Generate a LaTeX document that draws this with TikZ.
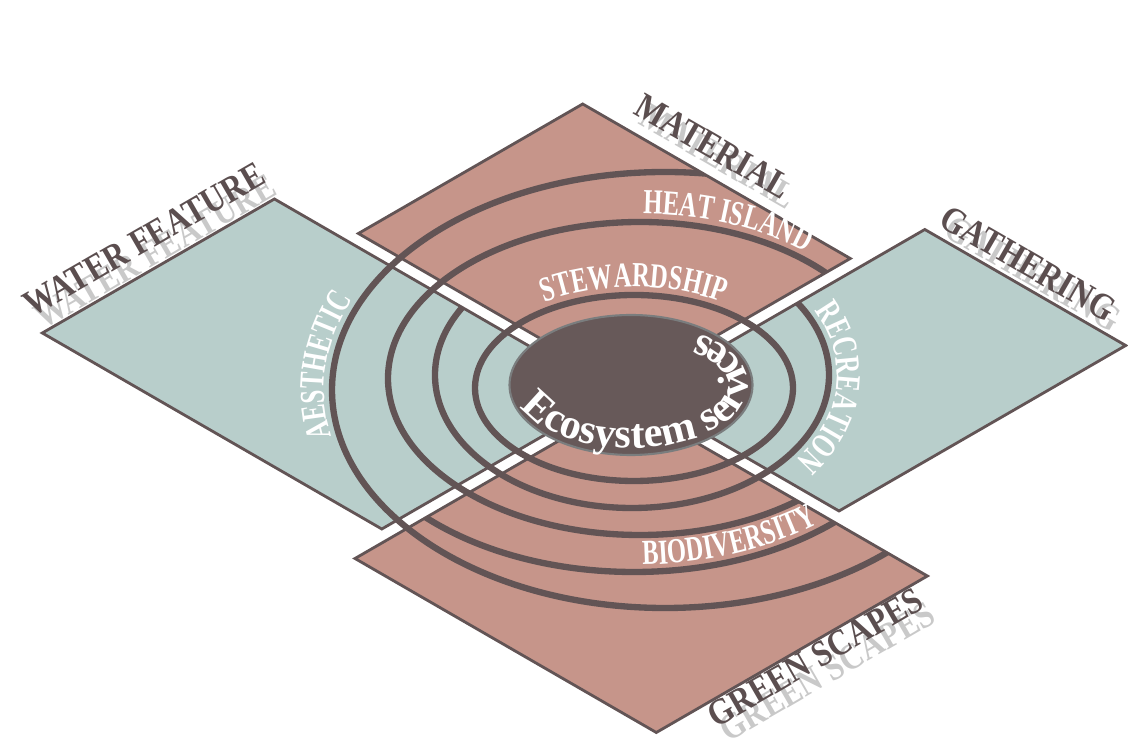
\documentclass[tikz,border=0pt]{standalone}
\usepackage{fontspec}
\setmainfont{Liberation Serif}
\newfontfamily\ringfont[FakeStretch=0.7]{Liberation Serif}
\newfontfamily\tagfont[FakeStretch=0.86]{Liberation Serif}
\usetikzlibrary{decorations.text}
\definecolor{teal1}{HTML}{B8CECB}
\definecolor{pink1}{HTML}{C6958A}
\definecolor{ink}{HTML}{625455}
\definecolor{core}{HTML}{675959}
\definecolor{coreline}{HTML}{7A7D7E}
\definecolor{tagtext}{HTML}{5B4E4F}
\begin{document}
\begin{tikzpicture}[
    x=0.02cm, y=0.02cm,
    plate/.style={line width=1.6pt, draw=ink, line join=miter},
    ring/.style={draw=ink, line width=3.6pt},
    tag/.style={font=\tagfont\fontsize{21}{21}\selectfont\bfseries, text=tagtext, inner sep=0pt, anchor=base},
    tagshade/.style={tag, text=black!30, opacity=0.7},
    ringtext/.style={decorate, decoration={text along path, text color=white, text align=center,
        text={|\ringfont\fontsize{20}{20}\selectfont\bfseries|#1}}}
]
\useasboundingbox (0,0) rectangle (1128,753);

% corners of the four plates
\coordinate (wfW) at (42.3,420);   \coordinate (wfN) at (274.4,554);
\coordinate (wfE) at (613.9,358);  \coordinate (wfS) at (381.8,224);
\coordinate (mtL) at (358.4,519.5); \coordinate (mtT) at (582.7,649);
\coordinate (mtR) at (850.3,494.5); \coordinate (mtB) at (626,365);
\coordinate (gaW) at (638.1,358);  \coordinate (gaN) at (924.8,523.5);
\coordinate (gaE) at (1125.7,407.5); \coordinate (gaS) at (839,242);
\coordinate (gsT) at (626,351);    \coordinate (gsR) at (927.4,177);
\coordinate (gsB) at (656.3,20.5); \coordinate (gsL) at (355,194.5);

\fill[teal1] (wfW) -- (wfN) -- (wfE) -- (wfS) -- cycle;
\fill[pink1] (mtL) -- (mtT) -- (mtR) -- (mtB) -- cycle;
\fill[teal1] (gaW) -- (gaN) -- (gaE) -- (gaS) -- cycle;
\fill[pink1] (gsT) -- (gsR) -- (gsB) -- (gsL) -- cycle;

% rings, kept inside the plates and the gaps between them
\begin{scope}
  \clip (wfW) -- (wfN) -- (346.3,512.5) -- (mtL) -- (mtT) -- (mtR) -- (862.4,487.5) -- (gaN)
        -- (gaE) -- (gaS) -- (826.9,235) -- (gsR) -- (gsB) -- (gsL) -- (393.9,217) -- (wfS) -- cycle;
  \draw[ring] (634,365) ellipse [x radius=159, y radius=93];
  \begin{scope}
    \clip (gsT) -- (1526,871) -- (1526,-400) -- (-400,-400) -- (-400,943) -- cycle;
    \draw[ring] (632,378) ellipse [x radius=197, y radius=133];
  \end{scope}
  \begin{scope}
    \clip (wfE) -- (1614,935) -- (-400,935) -- (-400,-400) -- (1614,-400) -- (1614,-219) -- cycle;
    \draw[ring] (640,374.5) ellipse [x radius=252, y radius=156.5];
    \draw[ring] (665,363) ellipse [x radius=333, y radius=218];
  \end{scope}
  \begin{scope}
    \clip (gsT) -- (1626,-226) -- (-374,-226) -- cycle;
    \draw[ring] (634,365) ellipse [x radius=293, y radius=184];
  \end{scope}
\end{scope}

\draw[plate] (wfW) -- (wfN) -- (wfE) -- (wfS) -- cycle;
\draw[plate] (mtL) -- (mtT) -- (mtR) -- (mtB) -- cycle;
\draw[plate] (gaW) -- (gaN) -- (gaE) -- (gaS) -- cycle;
\draw[plate] (gsT) -- (gsR) -- (gsB) -- (gsL) -- cycle;

% core
\draw[draw=coreline, line width=1.2pt, fill=core] (631,368) ellipse [x radius=121.5, y radius=70];

% ring labels
\path[ringtext=STEWARDSHIP] (634,365) ++(150:167 and 101) arc[start angle=150, end angle=30, x radius=167, y radius=101];
\path[ringtext=HEAT ISLAND] (640,374.5) ++(105:260 and 164.5) arc[start angle=105, end angle=31, x radius=260, y radius=164.5];
\path[ringtext=RECREATION] (632,378) ++(60:205 and 141) arc[start angle=60, end angle=-68, x radius=205, y radius=141];
\path[ringtext=AESTHETIC] (665,363) ++(215:341 and 226) arc[start angle=215, end angle=135, x radius=341, y radius=226];
\path[ringtext=BIODIVERSITY] (634,365) ++(245:286 and 177) arc[start angle=245, end angle=345, x radius=286, y radius=177];
\path[decorate, decoration={text along path, text color=white,
    text={|\fontsize{24}{24}\selectfont\bfseries|Ecosystem services}}]
    (631,368) ++(200:117 and 63) arc[start angle=200, end angle=455, x radius=117, y radius=63];

% plate names, each over its soft shadow
\node[tagshade, rotate=30] (waters) at (161,491) {WATER FEATURE};
\node[tag, rotate=30] (water) at (150,503) {WATER FEATURE};
\node[tagshade, rotate=-30] (materials) at (712,586) {MATERIAL};
\node[tag, rotate=-30] (material) at (707,596) {MATERIAL};
\node[tagshade, rotate=-30] (gathers) at (1027,469) {GATHERING};
\node[tag, rotate=-30] (gather) at (1022,479) {GATHERING};
\node[tagshade, rotate=30] (greens) at (833,71) {GREEN SCAPES};
\node[tag, rotate=30] (green) at (821,85) {GREEN SCAPES};
\end{tikzpicture}
\end{document}
